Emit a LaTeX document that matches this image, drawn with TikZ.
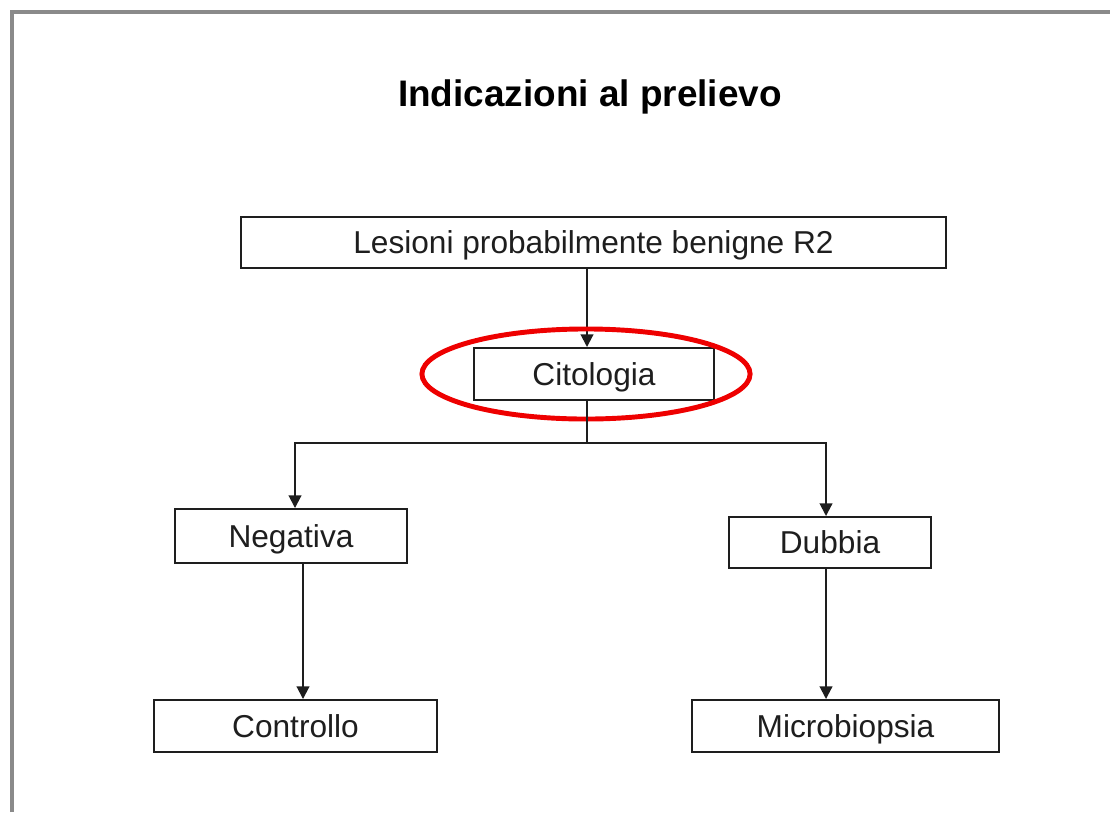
\documentclass[tikz,border=0pt]{standalone}
\usepackage{fontspec}
\setmainfont{Liberation Sans}
\usetikzlibrary{arrows.meta,calc}
\definecolor{fr}{HTML}{8A8A8A}
\definecolor{rg}{HTML}{EE0000}
\definecolor{tx}{HTML}{1E1E1E}
\tikzset{
  box/.style={draw=tx, line width=0.55pt, inner sep=0pt, text=tx,
    font=\fontsize{9}{11}\selectfont, text height=6.4pt, text depth=0pt,
    minimum height=0.52cm},
  arr/.style={draw=tx, line width=0.55pt, -{Triangle[length=3.6pt,width=3.6pt]}},
  ring/.style={draw=rg, line width=1.4pt},
}
\begin{document}
\begin{tikzpicture}[x=0.01cm,y=-0.01cm]
  \useasboundingbox (0,0) rectangle (1110,812);
  \draw[fr, line width=1.1pt] (12,812) -- (12,12) -- (1110,12);
  \node[font=\bfseries\fontsize{10.5}{12}\selectfont] (title) at (590,97) {Indicazioni al prelievo};
  \node[box, minimum width=7.05cm, minimum height=0.51cm] (ls) at (593.5,242.5) {Lesioni probabilmente benigne R2};
  \node[box, minimum width=2.40cm] (cit) at (594,374) {Citologia};
  \node[box, minimum width=2.32cm, minimum height=0.54cm] (neg) at (291,536) {Negativa};
  \node[box, minimum width=2.02cm, minimum height=0.51cm] (dub) at (830,542.5) {Dubbia};
  \node[box, minimum width=2.83cm] (ctrl) at (295.5,726) {Controllo};
  \node[box, minimum width=3.07cm] (mic) at (845.5,726) {Microbiopsia};
  \coordinate (split) at (587,443);
  \draw[arr] (ls.south -| split) -- (cit.north -| split);
  \draw[ring] (586,374) ellipse [x radius=1.64cm, y radius=0.45cm];
  \draw[draw=tx, line width=0.55pt] (cit.south -| split) -- (split);
  \draw[arr] (split) -| ($(neg.north)+(4,0)$);
  \draw[arr] (split) -| ($(dub.north)+(-4,0)$);
  \draw[arr] ($(neg.south)+(12,0)$) coordinate (n1) -- (n1 |- ctrl.north);
  \draw[arr] ($(dub.south)+(-4,0)$) coordinate (d1) -- (d1 |- mic.north);
\end{tikzpicture}
\end{document}
